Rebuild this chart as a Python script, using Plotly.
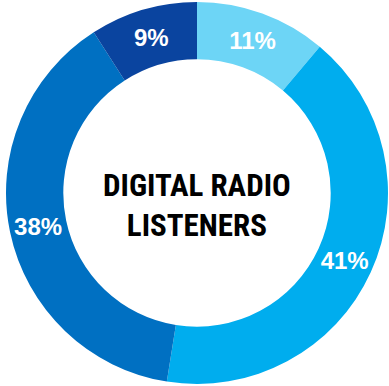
import plotly.graph_objects as go

labels = ["A", "B", "C", "D"]
values = [11, 41, 38, 9]
text_labels = ["11%", "41%", "38%", "9%"]
colors = ["#6dd5f6", "#00adee", "#0070c2", "#0a449f"]
center_text = "DIGITAL RADIO<br>LISTENERS"

W, H = 389, 386
cx, cy, R = 197, 193, 191

fig = go.Figure(go.Pie(
    labels=labels,
    values=values,
    text=text_labels,
    textinfo="text",
    sort=False,
    direction="clockwise",
    rotation=0,
    hole=0.70,
    marker=dict(colors=colors, line=dict(width=0)),
    textposition="inside",
    insidetextorientation="horizontal",
    textfont=dict(family="Liberation Sans, Arial, sans-serif", size=24, color="white", weight="bold"),
    domain=dict(x=[(cx - R) / W, (cx + R) / W], y=[(H - cy - R) / H, (H - cy + R) / H]),
    showlegend=False,
    hoverinfo="skip",
))

fig.add_annotation(
    text=center_text,
    x=cx / W, y=1 - (cy + 12) / H, xref="paper", yref="paper",
    showarrow=False,
    font=dict(family="Liberation Sans Narrow, Roboto Condensed, Arial Narrow, sans-serif", size=31, color="black", weight="bold"),
    align="center",
)

fig.update_layout(
    width=W, height=H,
    margin=dict(l=0, r=0, t=0, b=0),
    paper_bgcolor="white",
    plot_bgcolor="white",
)

fig.write_html("out.html")
